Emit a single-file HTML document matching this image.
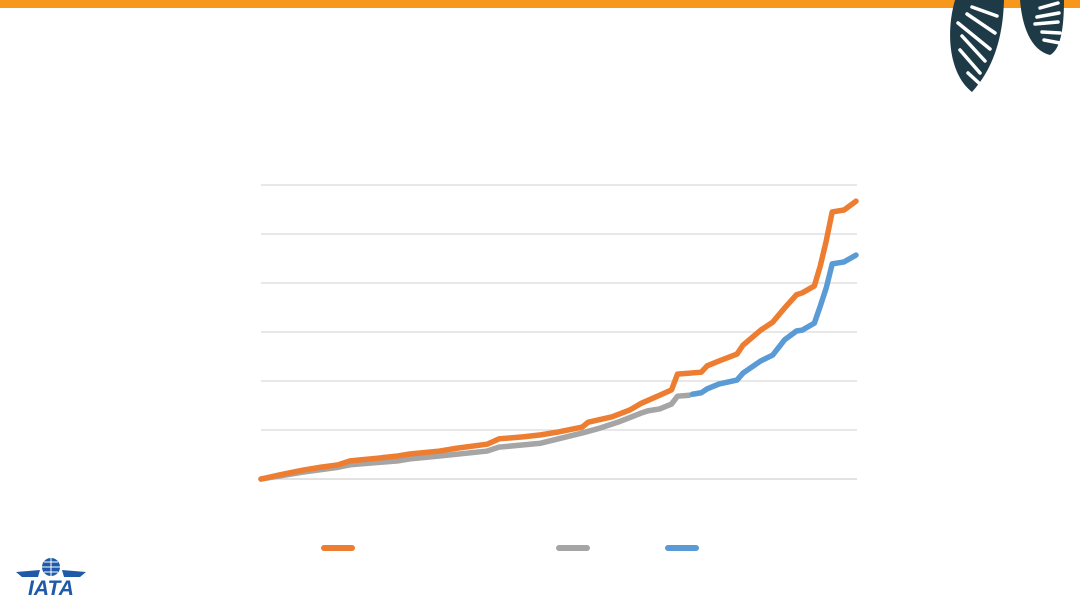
<!DOCTYPE html>
<html><head><meta charset="utf-8"><style>
html,body{margin:0;padding:0;width:1080px;height:608px;overflow:hidden;background:#fff;font-family:"Liberation Sans",sans-serif;}
</style></head><body>
<svg width="1080" height="608" viewBox="0 0 1080 608">
<rect x="0" y="0" width="1080" height="8" fill="#F7981D"/>
<g>
<path d="M955,0 L1004,0 C1003,40 992,70 972,92 C950,75 945,35 955,0 Z" fill="#1F3A47"/>
<g stroke="#fff" stroke-width="3.5" stroke-linecap="round">
<line x1="972" y1="7" x2="997" y2="16"/><line x1="967" y1="14" x2="995" y2="33"/>
<line x1="958" y1="23" x2="990" y2="49"/><line x1="962" y1="36" x2="985" y2="61"/>
<line x1="960" y1="50" x2="980" y2="73"/><line x1="968" y1="73" x2="980" y2="84"/>
</g>
<path d="M1020,0 L1064,0 C1064,30 1060,50 1050,55 C1030,50 1022,25 1020,0 Z" fill="#1F3A47"/>
<g stroke="#fff" stroke-width="3.5" stroke-linecap="round">
<line x1="1040" y1="8" x2="1058" y2="3"/><line x1="1037" y1="17" x2="1059" y2="13"/>
<line x1="1035" y1="24" x2="1058" y2="22"/><line x1="1042" y1="32" x2="1060" y2="33"/>
<line x1="1044" y1="40" x2="1060" y2="43"/>
</g>
</g>
<g id="grid"></g>
<g id="lines"></g>
<g>
<line x1="324" y1="548" x2="352" y2="548" stroke="#ED7D31" stroke-width="6" stroke-linecap="round"/>
<line x1="559" y1="548" x2="587" y2="548" stroke="#A5A5A5" stroke-width="6" stroke-linecap="round"/>
<line x1="668" y1="548" x2="696" y2="548" stroke="#5B9BD5" stroke-width="6" stroke-linecap="round"/>
</g>
<g>
<circle cx="51" cy="567" r="9" fill="#1E5AA8"/>
<path d="M42,567 H60 M51,558 V576 M44,562 H58 M44,572 H58" stroke="#fff" stroke-width="1"/>
<path d="M16,572 L40,570 L38,577 L22,577 Z M86,572 L62,570 L64,577 L80,577 Z" fill="#1E5AA8"/>
<text x="51" y="595" text-anchor="middle" font-size="21" font-weight="bold" font-style="italic" fill="#1E5AA8">IATA</text>
</g>
</svg>
<script>
const orangeX=[0,3,7,10,13,15,20,23,25,30,33,38,40,44,47,50,54,55,59,62,64,67,69,70,74,75,77,80,81,84,86,88,90,91,93,94,95,96,98,100];
const orangeY=[0,0.08,0.18,0.24,0.29,0.37,0.43,0.47,0.51,0.57,0.63,0.71,0.82,0.86,0.9,0.96,1.06,1.16,1.27,1.41,1.55,1.71,1.82,2.14,2.18,2.31,2.41,2.55,2.73,3.04,3.2,3.49,3.76,3.8,3.94,4.35,4.86,5.45,5.49,5.67];
const grayX=[0,7,13,15,23,25,30,38,40,47,50,54,57,60,64,65,67,69,70,72];
const grayY=[0,0.14,0.24,0.29,0.37,0.41,0.47,0.57,0.65,0.73,0.82,0.94,1.04,1.16,1.35,1.39,1.43,1.53,1.69,1.71];
const blueX=[72.5,74,75,77,80,81,84,86,88,90,91,93,94,95,96,98,100];
const blueY=[1.73,1.76,1.84,1.94,2.02,2.16,2.41,2.53,2.84,3.02,3.04,3.18,3.53,3.9,4.39,4.43,4.57];
const yTicks=[0,1,2,3,4,5,6];
const NS="http://www.w3.org/2000/svg";
const xs=p=>261+p*5.95;
const ys=v=>479-v*49;
const grid=document.getElementById('grid');
yTicks.forEach(t=>{
  const l=document.createElementNS(NS,'line');
  l.setAttribute('x1',261);l.setAttribute('x2',857);
  l.setAttribute('y1',ys(t));l.setAttribute('y2',ys(t));
  l.setAttribute('stroke',t===0?'#D0D0D0':'#D9D9D9');l.setAttribute('stroke-width',1.2);
  
  
  grid.appendChild(l);
});
const lines=document.getElementById('lines');
function draw(X,Y,color,name){
  const p=document.createElementNS(NS,'polyline');
  p.setAttribute('points',X.map((x,i)=>xs(x)+','+ys(Y[i])).join(' '));
  p.setAttribute('fill','none');p.setAttribute('stroke',color);
  p.setAttribute('stroke-width',5.5);p.setAttribute('stroke-linecap','round');p.setAttribute('stroke-linejoin','round');
  
  
  lines.appendChild(p);
}
draw(grayX,grayY,'#A5A5A5','gray-series-line');
draw(orangeX,orangeY,'#ED7D31','orange-series-line');
draw(blueX,blueY,'#5B9BD5','blue-series-line');
</script>
</body></html>
